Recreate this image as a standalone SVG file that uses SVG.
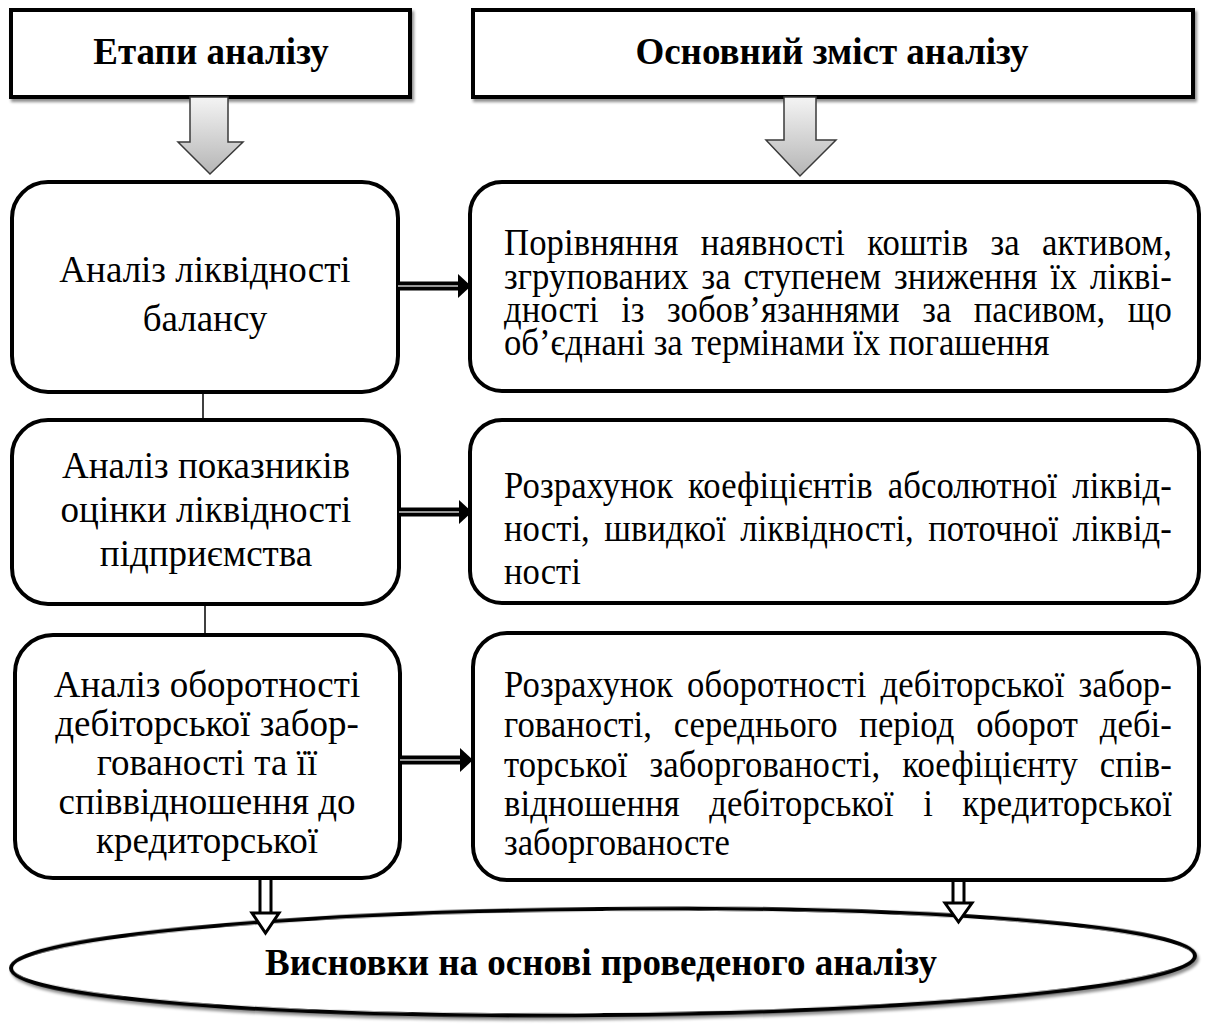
<svg xmlns="http://www.w3.org/2000/svg" width="1206" height="1025" viewBox="0 0 1206 1025">
  <style>
    .box { fill: #ffffff; stroke: #000000; stroke-width: 4; }
    .t { font-family: "Liberation Serif", "Times New Roman", serif; font-size: 37px; fill: #000000; }
    .c { text-anchor: middle; }
    .b { font-weight: bold; }
    .r { font-size: 38.5px; }
    .link { stroke: #000000; stroke-width: 1.5; fill: none; }
    .bigarrow { fill: url(#grayFill); stroke: #3a3a3a; stroke-width: 1.5; }
    .dbl-outer { stroke: #000000; stroke-width: 9; fill: none; }
    .dbl-inner { stroke: #c8c8c8; stroke-width: 1.5; fill: none; }
    .vshaft { stroke: #000000; stroke-width: 3; fill: none; }
    .vhead { fill: #ffffff; stroke: #000000; stroke-width: 3; stroke-linejoin: miter; }
  </style>
  <defs>
    <linearGradient id="grayFill" x1="0" y1="0" x2="0" y2="1">
      <stop offset="0" stop-color="#f4f4f4"/>
      <stop offset="1" stop-color="#b5b5b5"/>
    </linearGradient>
    <filter id="shadow" x="-5%" y="-10%" width="112%" height="135%">
      <feGaussianBlur in="SourceAlpha" stdDeviation="1.6"/>
      <feOffset dx="2" dy="3" result="off"/>
      <feComponentTransfer><feFuncA type="linear" slope="0.45"/></feComponentTransfer>
      <feMerge><feMergeNode/><feMergeNode in="SourceGraphic"/></feMerge>
    </filter>
    <!-- horizontal double-line arrow, 73 px long, origin at its tail -->
    <g id="dblArrowH">
      <path class="dbl-outer" d="M0 0 H62"/>
      <path class="dbl-inner" d="M0 0 H61"/>
      <path d="M60 -12 L73 0 L60 12 Z" fill="#000000"/>
    </g>
  </defs>

  <!-- column headers -->
  <g id="header-stages">
    <rect class="box" x="11" y="10" width="399" height="87" filter="url(#shadow)"/>
    <text class="t c b" x="211" y="64">Етапи аналізу</text>
  </g>
  <g id="header-content">
    <rect class="box" x="473" y="10" width="720" height="87" filter="url(#shadow)"/>
    <text class="t c b" x="832" y="64">Основний зміст аналізу</text>
  </g>

  <!-- stage 1 -->
  <g id="stage-balance">
    <rect class="box" x="12" y="182" width="386" height="210" rx="36"/>
    <text class="t c" x="205" y="282">Аналіз ліквідності</text>
    <text class="t c" x="205" y="331">балансу</text>
  </g>
  <!-- justified paragraph lines: narrow glyphs, 668 px measure starting at x=504 -->
  <g id="content-balance">
    <rect class="box" x="470" y="182" width="729" height="209" rx="32"/>
    <text class="t r" transform="translate(504 255) scale(0.9 1)" textLength="742" lengthAdjust="spacing" style="word-spacing:14.9px">Порівняння наявності коштів за активом,</text>
    <text class="t r" transform="translate(504 289) scale(0.9 1)" textLength="742" lengthAdjust="spacing" style="word-spacing:4.4px">згрупованих за ступенем зниження їх лікві-</text>
    <text class="t r" transform="translate(504 322) scale(0.9 1)" textLength="742" lengthAdjust="spacing" style="word-spacing:15.3px">дності із зобов’язаннями за пасивом, що</text>
    <text class="t r" transform="translate(504 355) scale(0.9 1)">об’єднані за термінами їх погашення</text>
  </g>

  <!-- stage 2 -->
  <g id="stage-indicators">
    <rect class="box" x="12" y="420" width="387" height="184" rx="36"/>
    <text class="t c" x="206" y="478">Аналіз показників</text>
    <text class="t c" x="206" y="522">оцінки ліквідності</text>
    <text class="t c" x="206" y="566">підприємства</text>
  </g>
  <g id="content-indicators">
    <rect class="box" x="470" y="420" width="729" height="183" rx="32"/>
    <text class="t r" transform="translate(504 498) scale(0.9 1)" textLength="742" lengthAdjust="spacing" style="word-spacing:6.9px">Розрахунок коефіцієнтів абсолютної ліквід-</text>
    <text class="t r" transform="translate(504 541) scale(0.9 1)" textLength="742" lengthAdjust="spacing" style="word-spacing:6.4px">ності, швидкої ліквідності, поточної ліквід-</text>
    <text class="t r" transform="translate(504 584) scale(0.9 1)">ності</text>
  </g>

  <!-- stage 3 -->
  <g id="stage-turnover">
    <rect class="box" x="15" y="635" width="385" height="243" rx="38"/>
    <text class="t c" x="207" y="697">Аналіз оборотності</text>
    <text class="t c" x="207" y="736">дебіторської забор-</text>
    <text class="t c" x="207" y="775">гованості та її</text>
    <text class="t c" x="207" y="814">співвідношення до</text>
    <text class="t c" x="207" y="853">кредиторської</text>
  </g>
  <g id="content-turnover">
    <rect class="box" x="473" y="633" width="726" height="247" rx="34"/>
    <text class="t r" transform="translate(504 697) scale(0.9 1)" textLength="742" lengthAdjust="spacing" style="word-spacing:5.9px">Розрахунок оборотності дебіторської забор-</text>
    <text class="t r" transform="translate(504 737) scale(0.9 1)" textLength="742" lengthAdjust="spacing" style="word-spacing:14.5px">гованості, середнього період оборот дебі-</text>
    <text class="t r" transform="translate(504 777) scale(0.9 1)" textLength="742" lengthAdjust="spacing" style="word-spacing:14.6px">торської заборгованості, коефіцієнту спів-</text>
    <text class="t r" transform="translate(504 816) scale(0.9 1)" textLength="742" lengthAdjust="spacing" style="word-spacing:22.9px">відношення дебіторської і кредиторської</text>
    <text class="t r" transform="translate(504 855) scale(0.9 1)">заборгованосте</text>
  </g>

  <!-- conclusions -->
  <g id="conclusions">
    <ellipse class="box" cx="603" cy="962" rx="592" ry="53" transform="rotate(-0.6 603 962)" filter="url(#shadow)"/>
    <text class="t c b" x="601" y="975">Висновки на основі проведеного аналізу</text>
  </g>

  <!-- connectors -->
  <g id="connectors">
    <!-- header block arrows -->
    <path class="bigarrow" d="M190 97 H228 V142 H243 L210 174 L178 142 H190 Z"/>
    <path class="bigarrow" d="M784 97 H816 V140 H836 L800 176 L766 140 H784 Z"/>
    <!-- links between stages -->
    <path class="link" d="M203 392 V420"/>
    <path class="link" d="M205 604 V635"/>
    <!-- stage to content arrows -->
    <use href="#dblArrowH" x="398" y="286"/>
    <use href="#dblArrowH" x="399" y="512"/>
    <use href="#dblArrowH" x="400" y="760"/>
    <!-- arrows into the conclusions -->
    <path class="vshaft" d="M260 878 V913 M271 878 V913"/>
    <path class="vhead" d="M252 913 H279 L265.5 933 Z"/>
    <path class="vshaft" d="M953 880 V903 M964 880 V903"/>
    <path class="vhead" d="M945 903 H972 L958.5 922 Z"/>
  </g>
</svg>
